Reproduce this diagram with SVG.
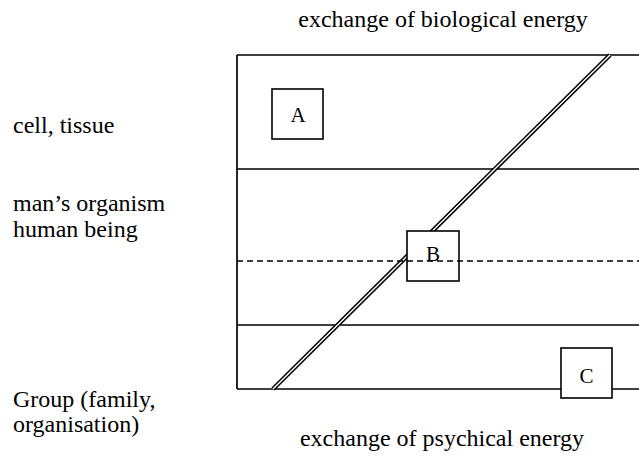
<svg xmlns="http://www.w3.org/2000/svg" width="639" height="460" viewBox="0 0 639 460">
<style>
text{font-family:"Liberation Serif","Times New Roman",serif;font-size:24px;fill:#000}
.ln{stroke:#000;stroke-width:1.7;fill:none}
.box{fill:#fff;stroke:#000;stroke-width:1.6}
.mid{text-anchor:middle}
.let{font-size:21px;text-anchor:middle}
</style>
<rect width="639" height="460" fill="#fff"/>
<g id="frame">
<line class="ln" x1="237" y1="55" x2="639" y2="55"/>
<line class="ln" x1="237" y1="55" x2="237" y2="389"/>
<line class="ln" x1="237" y1="389" x2="639" y2="389"/>
<line class="ln" x1="237" y1="169" x2="639" y2="169"/>
<line class="ln" x1="237" y1="325" x2="639" y2="325"/>
</g>
<g id="connectors">
<line x1="273" y1="389" x2="610" y2="55" stroke="#000" stroke-width="4.5"/>
<line x1="273" y1="389" x2="610" y2="55" stroke="#fff" stroke-width="1.4"/>
</g>
<g id="A"><rect class="box" x="272" y="89" width="51" height="50"/><text class="let" x="298" y="122">A</text></g>
<g id="B"><rect class="box" x="407" y="231" width="52" height="50"/><text class="let" x="433" y="261">B</text></g>
<line id="dashed" x1="237" y1="261" x2="639" y2="261" stroke="#000" stroke-width="1.6" stroke-dasharray="6,4"/>
<g id="C"><rect class="box" x="561" y="348" width="51" height="50"/><text class="let" x="586.5" y="383">C</text></g>
<g id="labels">
<text class="mid" x="443" y="27">exchange of biological energy</text>
<text class="mid" x="442" y="446">exchange of psychical energy</text>
<text x="13" y="133">cell, tissue</text>
<text x="13" y="211">man’s organism</text>
<text x="13" y="237">human  being</text>
<text x="13" y="407">Group (family,</text>
<text x="13" y="432">organisation)</text>
</g>
</svg>
